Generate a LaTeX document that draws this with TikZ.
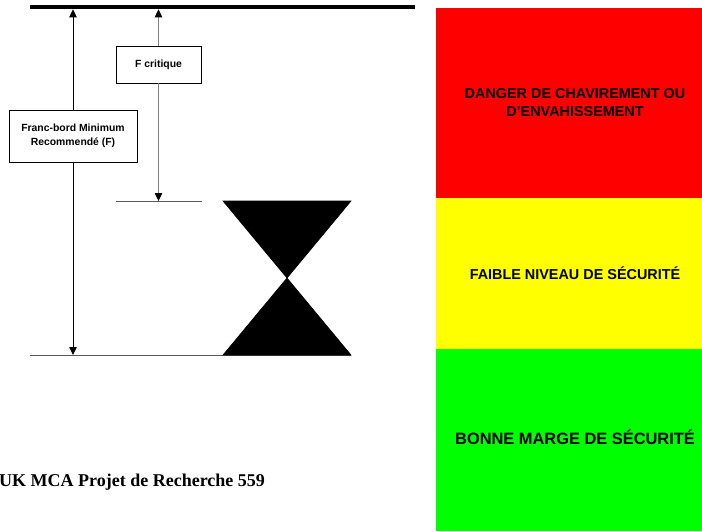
\documentclass[tikz,border=0pt]{standalone}
\usepackage{fontspec}
\setmainfont{Liberation Sans}
\newfontfamily\capserif{Liberation Serif}
\usetikzlibrary{arrows.meta, positioning}
\definecolor{dangerFl}{HTML}{FF0000}
\definecolor{lowFl}{HTML}{FFFF00}
\definecolor{goodFl}{HTML}{00FF00}
\definecolor{critClr}{HTML}{808080}
\definecolor{levelClr}{HTML}{5A5A5A}
\newcommand{\zonefnt}{\fontsize{14.4}{18}\selectfont\bfseries}
\newcommand{\boxfnt}{\fontsize{10.4}{14.5}\selectfont\bfseries}

\begin{document}
\begin{tikzpicture}[
  x=1pt, y=-1pt,
  >={Triangle[length=8pt, width=7.5pt, fill=black, color=black]},
  dimbox/.style={draw, fill=white, line width=0.8pt, align=center,
                 inner sep=0pt, font=\boxfnt},
  zone/.style={inner sep=0pt, anchor=north west},
  zonetxt/.style={align=center, inner sep=0pt, font=\zonefnt},
  dim/.style={->, line width=0.8pt},
]
\useasboundingbox (0,0) rectangle (702,531);

% ---------- safety zones ----------
\node[zone, fill=dangerFl, minimum width=266pt, minimum height=190pt] (danger) at (436,8) {};
\node[zone, fill=lowFl, minimum width=266pt, minimum height=151pt] (low) at (436,198) {};
\node[zone, fill=goodFl, minimum width=266pt, minimum height=182pt] (good) at (436,349) {};

\node[zonetxt] (dangerTxt) at (575,102.5) {DANGER DE CHAVIREMENT OU\\D'ENVAHISSEMENT};
\node[zonetxt] (lowTxt) at (575,273) {FAIBLE NIVEAU DE SÉCURITÉ};
\node[zonetxt, font=\fontsize{16.4}{20}\selectfont\bfseries] (goodTxt) at (575,437) {BONNE MARGE DE SÉCURITÉ};

% ---------- deck, levels and water line ----------
\coordinate (deckL) at (30,7.2);
\coordinate (deckR) at (415,7.2);
\draw[line width=4.3pt] (deckL) -- (deckR);

\coordinate (critL) at (116,201);
\coordinate (critR) at (202,201);
\draw[levelClr, line width=0.8pt] (critL) -- (critR);

\coordinate (wlL) at (30,355);
\coordinate (wlR) at (351,355);
\draw[levelClr, line width=0.8pt] (wlL) -- (wlR);

% water line mark
\filldraw[line width=0.6pt, line join=miter] (223,201) -- (351,201) -- (223,355) -- (351,355) -- cycle;

% ---------- freeboard dimensions ----------
\node[dimbox, minimum width=128pt, minimum height=52pt] (fmin) at (73,136)
  {Franc-bord Minimum\\Recommendé (F)};
\node[dimbox, minimum width=85pt, minimum height=37pt] (fcrit) at (158.5,64.5)
  {F critique};

\coordinate (deckF) at (73,9.3);
\coordinate (wlF) at (73,355);
\coordinate (deckC) at (158.5,9.3);
\coordinate (wlC) at (158.5,201);

\draw[dim] (fmin) -- (deckF);
\draw[dim] (fmin) -- (wlF);
\draw[dim, critClr] (fcrit) -- (deckC);
\draw[dim, critClr] (fcrit) -- (wlC);

% ---------- caption ----------
\node[anchor=base west, inner sep=0pt, font=\capserif\fontsize{18}{22}\selectfont\bfseries]
  (caption) at (-1,486) {UK MCA Projet de Recherche 559};

\end{tikzpicture}
\end{document}
